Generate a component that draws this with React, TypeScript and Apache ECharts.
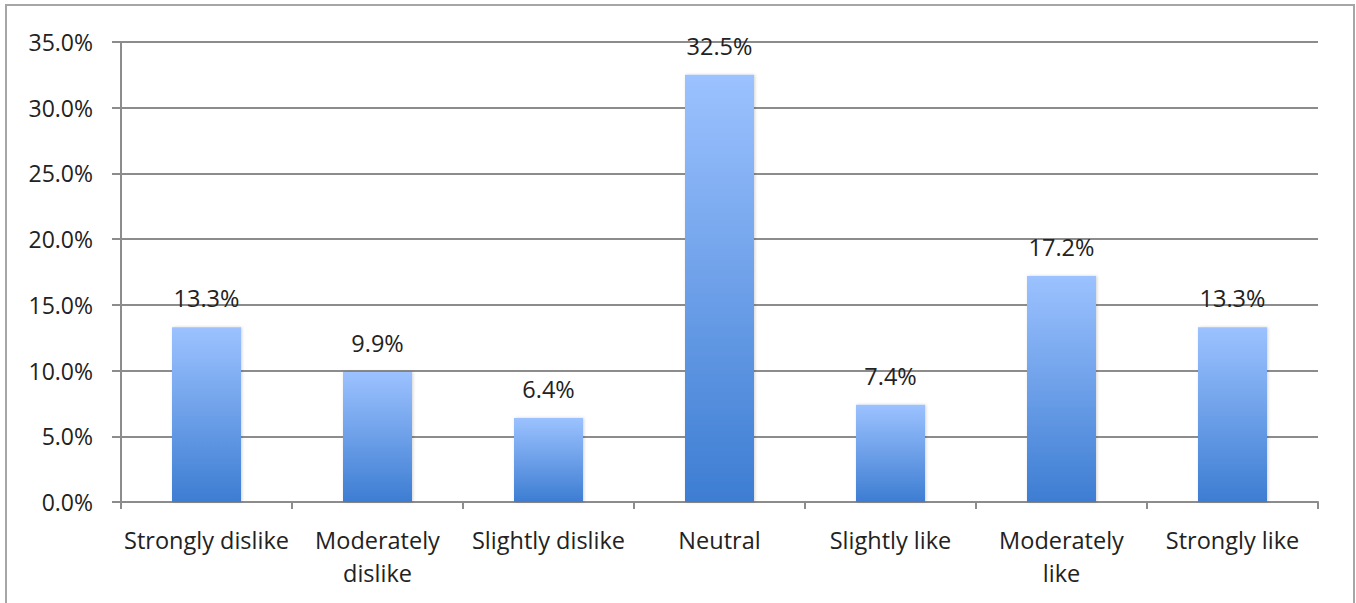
import React, { useEffect, useRef } from "react";
import * as echarts from "echarts";

const categories = [
  "Strongly dislike",
  "Moderately dislike",
  "Slightly dislike",
  "Neutral",
  "Slightly like",
  "Moderately like",
  "Strongly like",
];
const shares = [13.3, 9.9, 6.4, 32.5, 7.4, 17.2, 13.3];

const FONT = "'Open Sans', 'Liberation Sans', sans-serif";

export default function App() {
  const ref = useRef<HTMLDivElement>(null);

  useEffect(() => {
    if (!ref.current) return;
    const chart = echarts.init(ref.current, null, { renderer: "svg" });
    chart.setOption({
      animation: false,
      backgroundColor: "#ffffff",
      grid: { left: 121, right: 38, top: 42, bottom: 101 },
      graphic: [
        {
          type: "rect",
          shape: { x: 6, y: 5, width: 1348, height: 620 },
          style: { fill: "none", stroke: "#a6a6a6", lineWidth: 2 },
          silent: true,
        },
      ],
      xAxis: {
        type: "category",
        data: categories,
        axisLine: { lineStyle: { color: "#8c8c8c", width: 2 } },
        axisTick: { show: true, length: 7, lineStyle: { color: "#8c8c8c", width: 2 } },
        axisLabel: {
          interval: 0,
          color: "#222222",
          fontFamily: FONT,
          fontSize: 23.5,
          lineHeight: 33,
          margin: 21,
          formatter: (v: string) => v.replace("Moderately ", "Moderately\n"),
        },
      },
      yAxis: {
        type: "value",
        min: 0,
        max: 35,
        interval: 5,
        axisLine: { show: true, lineStyle: { color: "#8c8c8c", width: 2 } },
        axisTick: { show: true, length: 9, lineStyle: { color: "#8c8c8c", width: 2 } },
        splitLine: { lineStyle: { color: "#8c8c8c", width: 2 } },
        axisLabel: {
          color: "#222222",
          fontFamily: FONT,
          fontSize: 23,
          margin: 28,
          formatter: (v: number) => v.toFixed(1) + "%",
        },
      },
      series: [
        {
          type: "bar",
          data: shares,
          barWidth: 69,
          itemStyle: {
            color: new echarts.graphic.LinearGradient(0, 0, 0, 1, [
              { offset: 0, color: "#9cc2ff" },
              { offset: 1, color: "#3d7dd2" },
            ]),
            shadowColor: "rgba(0,0,0,0.18)",
            shadowBlur: 3,
            shadowOffsetX: 1,
          },
          label: {
            show: true,
            position: "top",
            distance: 17,
            color: "#222222",
            fontFamily: FONT,
            fontSize: 23.5,
            formatter: (p: any) => p.value.toFixed(1) + "%",
          },
        },
      ],
    });
    return () => chart.dispose();
  }, []);

  return (
    <div
      ref={ref}
      style={{ position: "fixed", left: 0, top: 0, width: 1356, height: 603 }}
    />
  );
}
